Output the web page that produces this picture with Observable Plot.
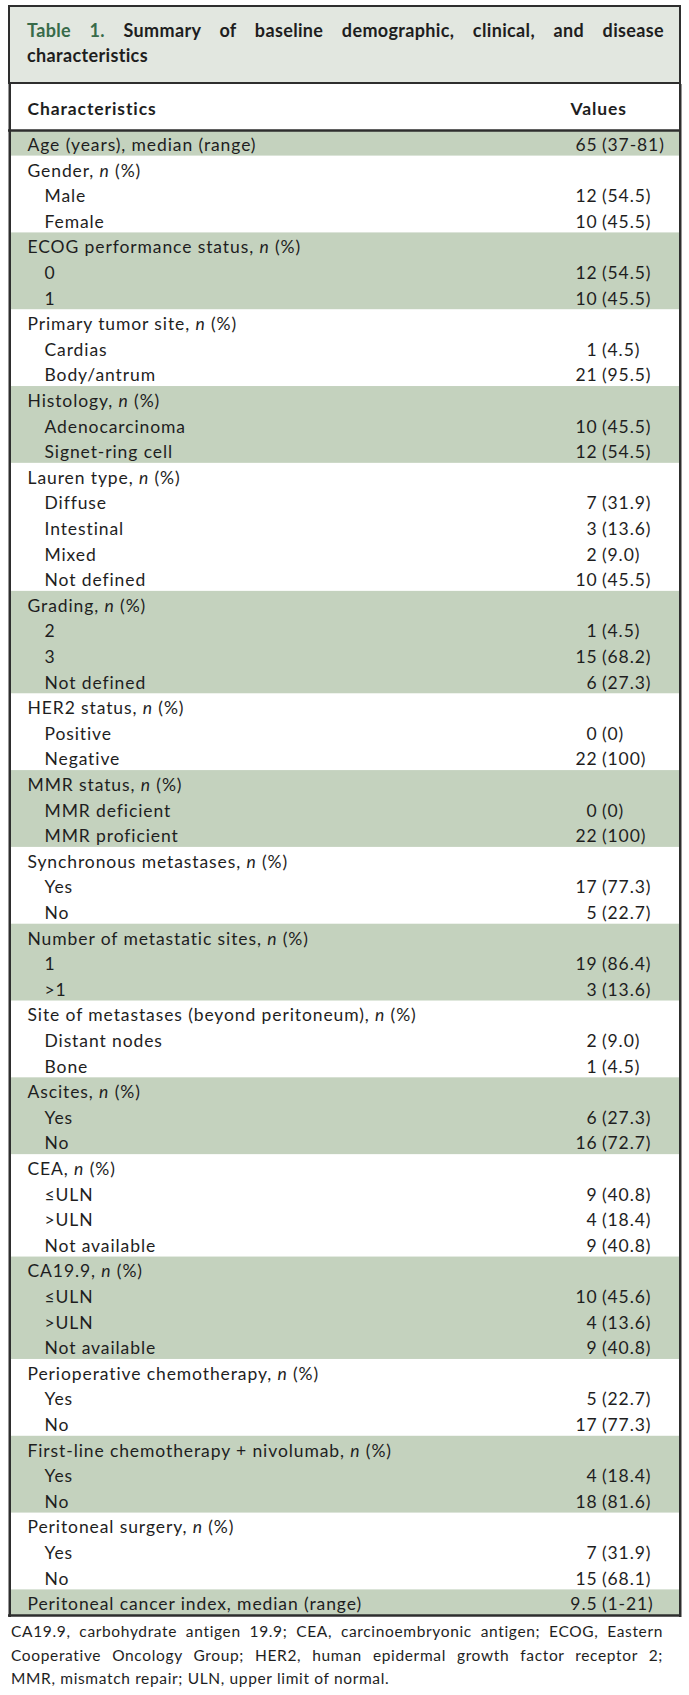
<!DOCTYPE html>
<html>
<head>
<meta charset="utf-8">
<script src="https://cdn.jsdelivr.net/npm/d3@7"></script>
<script src="https://cdn.jsdelivr.net/npm/@observablehq/plot@0.6"></script>
<style>
  html, body { margin: 0; padding: 0; background: #ffffff; }
  body { width: 689px; font-family: Lato, "Open Sans", sans-serif; color: #1e1e1e; }
  #title {
    box-sizing: border-box;
    margin: 5px 0 0 8px;
    width: 673px;
    height: 79px;
    border: 2.5px solid #2e2e2e;
    background: #e2e7e0;
    padding: 11px 15px 0 17px;
    font-weight: bold;
    font-size: 18px;
    line-height: 25px;
    letter-spacing: 0.35px;
  }
  #title .green { color: #386b4a; }
  .j { text-align: justify; text-align-last: justify; white-space: nowrap; }
  #chart svg { display: block; }
  #note {
    box-sizing: border-box;
    margin: 3px 0 0 11px;
    width: 652px;
    font-size: 15.5px;
    line-height: 23.5px;
    letter-spacing: 0.65px;
    color: #1e1e1e;
  }
</style>
</head>
<body>
<div id="title"></div>
<div id="chart"></div>
<div id="note"></div>
<script>
// ---- data ----
const titleLead = "Table 1.";
const titleLines = ["Summary of baseline demographic, clinical, and disease", "characteristics"];
const headerLabels = ["Characteristics", "Values"];

const labels = [
  "Age (years), median (range)",
  "Gender, n (%)", "Male", "Female",
  "ECOG performance status, n (%)", "0", "1",
  "Primary tumor site, n (%)", "Cardias", "Body/antrum",
  "Histology, n (%)", "Adenocarcinoma", "Signet-ring cell",
  "Lauren type, n (%)", "Diffuse", "Intestinal", "Mixed", "Not defined",
  "Grading, n (%)", "2", "3", "Not defined",
  "HER2 status, n (%)", "Positive", "Negative",
  "MMR status, n (%)", "MMR deficient", "MMR proficient",
  "Synchronous metastases, n (%)", "Yes", "No",
  "Number of metastatic sites, n (%)", "1", ">1",
  "Site of metastases (beyond peritoneum), n (%)", "Distant nodes", "Bone",
  "Ascites, n (%)", "Yes", "No",
  "CEA, n (%)", "≤ULN", ">ULN", "Not available",
  "CA19.9, n (%)", "≤ULN", ">ULN", "Not available",
  "Perioperative chemotherapy, n (%)", "Yes", "No",
  "First-line chemotherapy + nivolumab, n (%)", "Yes", "No",
  "Peritoneal surgery, n (%)", "Yes", "No",
  "Peritoneal cancer index, median (range)"
];

const values = [
  "65 (37-81)",
  "", "12 (54.5)", "10 (45.5)",
  "", "12 (54.5)", "10 (45.5)",
  "", "1 (4.5)", "21 (95.5)",
  "", "10 (45.5)", "12 (54.5)",
  "", "7 (31.9)", "3 (13.6)", "2 (9.0)", "10 (45.5)",
  "", "1 (4.5)", "15 (68.2)", "6 (27.3)",
  "", "0 (0)", "22 (100)",
  "", "0 (0)", "22 (100)",
  "", "17 (77.3)", "5 (22.7)",
  "", "19 (86.4)", "3 (13.6)",
  "", "2 (9.0)", "1 (4.5)",
  "", "6 (27.3)", "16 (72.7)",
  "", "9 (40.8)", "4 (18.4)", "9 (40.8)",
  "", "10 (45.6)", "4 (13.6)", "9 (40.8)",
  "", "5 (22.7)", "17 (77.3)",
  "", "4 (18.4)", "18 (81.6)",
  "", "7 (31.9)", "15 (68.1)",
  "9.5 (1-21)"
];

const level = [
  0,
  0, 1, 1,
  0, 1, 1,
  0, 1, 1,
  0, 1, 1,
  0, 1, 1, 1, 1,
  0, 1, 1, 1,
  0, 1, 1,
  0, 1, 1,
  0, 1, 1,
  0, 1, 1,
  0, 1, 1,
  0, 1, 1,
  0, 1, 1, 1,
  0, 1, 1, 1,
  0, 1, 1,
  0, 1, 1,
  0, 1, 1,
  0
];

const noteLines = [
  "CA19.9, carbohydrate antigen 19.9; CEA, carcinoembryonic antigen; ECOG, Eastern",
  "Cooperative Oncology Group; HER2, human epidermal growth factor receptor 2;",
  "MMR, mismatch repair; ULN, upper limit of normal."
];

// ---- derived table ----
let g = -1;
const rows = labels.map((label, i) => {
  if (level[i] === 0) g++;
  const v = values[i];
  const sp = v.indexOf(" ");
  return {
    i, label, level: level[i], group: g,
    count: v ? v.slice(0, sp) : "",
    paren: v ? v.slice(sp + 1) : ""
  };
});
const groups = d3.groups(rows, d => d.group).map(([grp, rs]) => ({
  group: grp, y1: rs[0].i, y2: rs[rs.length - 1].i + 1, shaded: grp % 2 === 0
}));
const nRows = rows.length;

// ---- title ----
const title = document.getElementById("title");
title.innerHTML =
  `<div class="j"><span class="green">${titleLead}</span> ${titleLines[0]}</div>` +
  `<div>${titleLines[1]}</div>`;

// ---- table ----
const ink = "#1e1e1e";
const border = "#2e2e2e";
const shade = "#c4d2be";
const left = 9.25, right = 679.75;
const fs = 17.5;

const chart = Plot.plot({
  width: 689,
  height: 1533,
  margin: 0,
  x: {domain: [0, 689], range: [0, 689], axis: null},
  y: {domain: [0, nRows], range: [46, 1531], axis: null},
  style: {fontFamily: "Lato, 'Open Sans', sans-serif", fontSize: fs + "px", letterSpacing: "0.9px", background: "#ffffff", overflow: "visible"},
  marks: [
    Plot.rect(groups.filter(d => d.shaded), {x1: left, x2: right, y1: "y1", y2: "y2", fill: shade}),
    // header texts
    Plot.text([headerLabels[0]], {x: 27, y: -0.9, text: d => d, textAnchor: "start", fontWeight: "bold", fontSize: fs, fill: ink, dy: 2}),
    Plot.text([headerLabels[1]], {x: 570, y: -0.9, text: d => d, textAnchor: "start", fontWeight: "bold", fontSize: fs, fill: ink, dy: 2}),
    // labels
    Plot.text(rows, {x: d => d.level ? 44 : 27, y: d => d.i + 0.5, text: "label", textAnchor: "start", fontSize: fs, fill: ink, dy: 2}),
    // values: count right-aligned, bracket left-aligned
    Plot.text(rows.filter(d => d.count), {x: 597, y: d => d.i + 0.5, text: "count", textAnchor: "end", fontSize: fs, fill: ink, dy: 2}),
    Plot.text(rows.filter(d => d.paren), {x: 601.5, y: d => d.i + 0.5, text: "paren", textAnchor: "start", fontSize: fs, fill: ink, dy: 2}),
    // rules
    Plot.ruleY([0, nRows], {x1: left - 1.25, x2: right + 1.25, stroke: border, strokeWidth: 2.5}),
    Plot.ruleX([left, right], {stroke: border, strokeWidth: 2.5})
  ]
});

// italic "n" in "n (%)"
chart.querySelectorAll("text").forEach(t => {
  const s = t.textContent;
  const k = s.indexOf(", n (");
  if (k >= 0 && t.children.length === 0) {
    t.textContent = "";
    const parts = [[s.slice(0, k + 2), null], ["n", "italic"], [s.slice(k + 3), null]];
    for (const [txt, style] of parts) {
      const ts = document.createElementNS("http://www.w3.org/2000/svg", "tspan");
      ts.textContent = txt;
      if (style) ts.setAttribute("font-style", style);
      t.appendChild(ts);
    }
  }
});
document.getElementById("chart").appendChild(chart);

// ---- footnote ----
document.getElementById("note").innerHTML = noteLines
  .map((l, i) => `<div class="${i < noteLines.length - 1 ? "j" : ""}">${l}</div>`).join("");
</script>
</body>
</html>
